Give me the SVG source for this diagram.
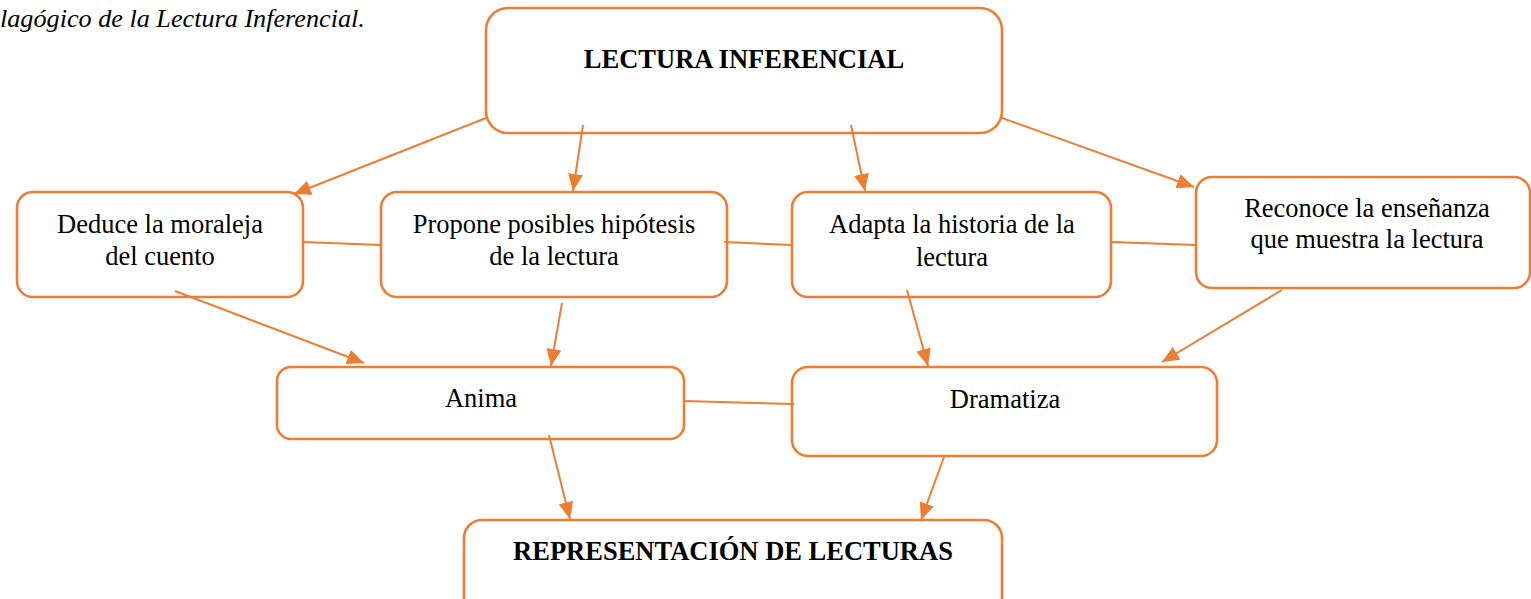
<svg xmlns="http://www.w3.org/2000/svg" width="1531" height="599" viewBox="0 0 1531 599">
<style>
.box{fill:#fff;stroke:#ED7D31;stroke-width:2.6}
.t{font-family:"Liberation Serif","Times New Roman",serif;font-size:26.5px;fill:#000;text-anchor:middle}
.b{font-weight:bold}
.c line{stroke:#ED7D31;stroke-width:2}
.c line.a{marker-end:url(#ah)}
</style>
<defs>
<marker id="ah" viewBox="0 0 17 15" refX="17" refY="7.5" markerWidth="17" markerHeight="15" markerUnits="userSpaceOnUse" orient="auto">
<path d="M0,0 L17,7.5 L0,15 z" fill="#ED7D31"/>
</marker>
</defs>
<text x="0" y="27" style="font-family:'Liberation Serif','Times New Roman',serif;font-size:26.2px;font-style:italic;fill:#000">lagógico de la Lectura Inferencial.</text>
<g id="lectura-inferencial">
<rect class="box" x="486" y="8" width="516" height="125" rx="22"/>
<text class="t b" x="744" y="68">LECTURA INFERENCIAL</text>
</g>
<g id="deduce">
<rect class="box" x="17" y="192" width="286" height="105" rx="16"/>
<text class="t" x="160" y="233">Deduce la moraleja</text>
<text class="t" x="160" y="265">del cuento</text>
</g>
<g id="propone">
<rect class="box" x="381" y="192" width="346" height="105" rx="16"/>
<text class="t" x="554" y="233">Propone posibles hipótesis</text>
<text class="t" x="554" y="265">de la lectura</text>
</g>
<g id="adapta">
<rect class="box" x="792" y="192" width="319" height="105" rx="16"/>
<text class="t" x="952" y="233">Adapta la historia de la</text>
<text class="t" x="952" y="266">lectura</text>
</g>
<g id="reconoce">
<rect class="box" x="1196" y="177" width="334" height="111" rx="16"/>
<text class="t" x="1367" y="217">Reconoce la enseñanza</text>
<text class="t" x="1367" y="248">que muestra la lectura</text>
</g>
<g id="anima">
<rect class="box" x="277" y="367" width="407" height="72" rx="14"/>
<text class="t" x="481" y="407">Anima</text>
</g>
<g id="dramatiza">
<rect class="box" x="792" y="367" width="425" height="89" rx="16"/>
<text class="t" x="1005" y="408">Dramatiza</text>
</g>
<g id="representacion">
<rect class="box" x="464" y="520" width="538" height="100" rx="18"/>
<text class="t b" x="733" y="560">REPRESENTACIÓN DE LECTURAS</text>
</g>
<g class="c" id="connectors">
<line class="a" x1="486" y1="118" x2="294" y2="194"/>
<line class="a" x1="583" y1="125" x2="573" y2="191"/>
<line class="a" x1="851" y1="125" x2="865" y2="191"/>
<line class="a" x1="1002" y1="118" x2="1194" y2="187"/>
<line x1="303" y1="242" x2="381" y2="245"/>
<line x1="724" y1="242" x2="792" y2="245"/>
<line x1="1111" y1="242" x2="1196" y2="245"/>
<line class="a" x1="175" y1="291" x2="364" y2="363"/>
<line class="a" x1="562" y1="303" x2="551" y2="366"/>
<line x1="684" y1="401" x2="794" y2="404"/>
<line class="a" x1="907" y1="290" x2="928" y2="366"/>
<line class="a" x1="1282" y1="290" x2="1162" y2="362"/>
<line class="a" x1="549" y1="435" x2="570" y2="519"/>
<line class="a" x1="944" y1="457" x2="921" y2="520"/>
</g>
</svg>
